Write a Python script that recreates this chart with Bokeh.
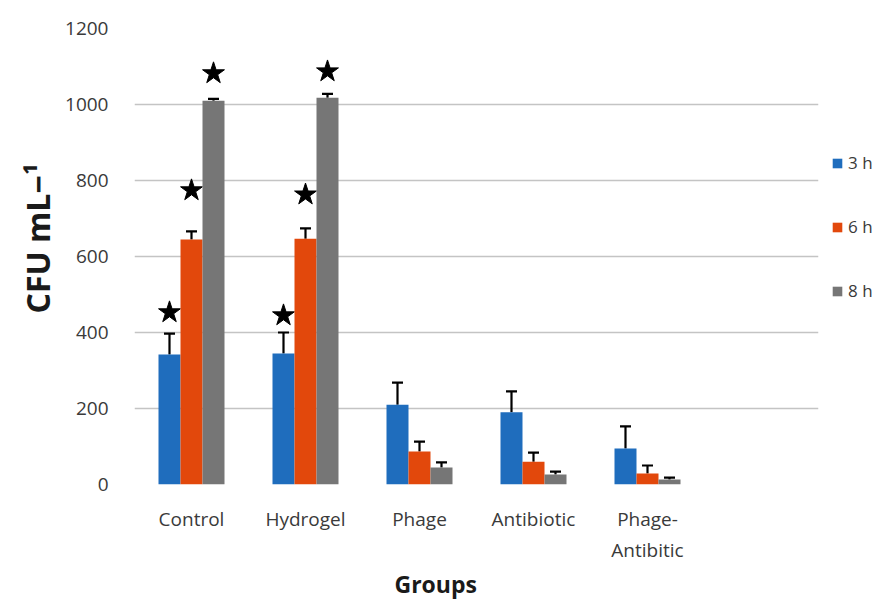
from bokeh.plotting import figure
from bokeh.models import Range1d, FixedTicker, Legend, LegendItem, Title, Whisker, ColumnDataSource, TeeHead
from bokeh.embed import file_html
from bokeh.resources import INLINE
import numpy as np

groups = ["Control", "Hydrogel", "Phage", "Antibiotic", "Phage-\nAntibitic"]
series = ["3 h", "6 h", "8 h"]
h3 = [342, 345, 210, 190, 95]
h3_err = [55, 55, 58, 55, 58]
h6 = [645, 647, 87, 60, 29]
h6_err = [21, 27, 26, 24, 21]
h8 = [1010, 1018, 45, 26, 13]
h8_err = [5, 10, 13, 8, 5]
star_groups = [0, 1]
star3 = [453, 445]
star6 = [774, 763]
star8 = [1082, 1087]
colors = ["#1f6dbd", "#e2480c", "#767676"]

p = figure(frame_width=684, frame_height=456, output_backend="svg", toolbar_location=None,
           x_range=Range1d(0, 6), y_range=Range1d(0, 1200),
           min_border_left=134, min_border_top=28, min_border_bottom=0, min_border_right=0)
p.outline_line_color = None
p.background_fill_color = "white"

centers = np.arange(len(groups)) + 0.5
offsets = [-0.193, 0.0, 0.193]
vals = [h3, h6, h8]
errs = [h3_err, h6_err, h8_err]
stars = [star3, star6, star8]
items = []
for k in range(3):
    x = centers + offsets[k]
    r = p.vbar(x=x, top=vals[k], width=0.193, fill_color=colors[k], line_color=None)
    items.append(LegendItem(label=series[k], renderers=[r]))
    top = np.array(vals[k]) + np.array(errs[k])
    src = ColumnDataSource(dict(x=x, lower=vals[k], upper=top))
    w = Whisker(source=src, base="x", lower="lower", upper="upper", line_color="black", line_width=2.2,
                upper_head=TeeHead(size=11, line_color="black", line_width=2.2), lower_head=None)
    p.add_layout(w)
    sx = centers[star_groups] + offsets[k]
    p.scatter(x=sx, y=stars[k], marker="star", size=23, fill_color="black", line_color="black")

p.xaxis.ticker = FixedTicker(ticks=list(centers))
p.xaxis.major_label_overrides = {float(c): g for c, g in zip(centers, groups)}
p.yaxis.ticker = FixedTicker(ticks=[0, 200, 400, 600, 800, 1000, 1200])
p.xgrid.grid_line_color = None
p.ygrid.grid_line_color = "#c4c4c4"
p.ygrid.grid_line_width = 1.6
for ax in (p.xaxis[0], p.yaxis[0]):
    ax.axis_line_color = None
    ax.major_tick_line_color = None
    ax.minor_tick_line_color = None
    ax.major_label_text_font = "Open Sans"
    ax.major_label_text_font_size = "19px"
    ax.major_label_text_color = "#3a3a3a"
p.yaxis.major_label_standoff = 20
p.xaxis.major_label_standoff = 15

xt = Title(text="Groups", align="left", offset=260, text_font="Open Sans", text_font_style="bold",
           text_font_size="23px", text_color="#1a1a1a", standoff=0)
p.add_layout(xt, "below")
yt = Title(text="CFU mL\u2212\u00b9", align="left", offset=171, text_font="Open Sans", text_font_style="bold",
           text_font_size="32px", text_color="#1a1a1a", standoff=8)
p.add_layout(yt, "left")

leg = Legend(items=items, location=(13, 182), glyph_width=12, glyph_height=12, spacing=41,
             label_text_font="Open Sans", label_text_font_size="17px", label_text_color="#3a3a3a",
             label_standoff=5, padding=0, margin=0, border_line_color=None, background_fill_alpha=0)
p.add_layout(leg, "right")

open("out.html", "w").write(file_html(p, INLINE))
